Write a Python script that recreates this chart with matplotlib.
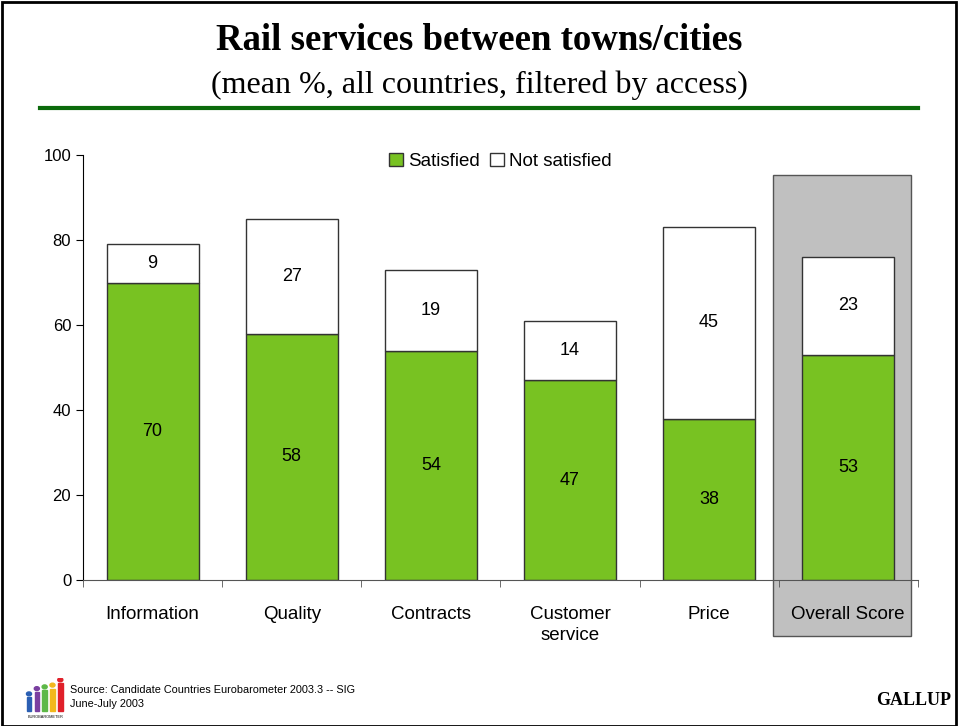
import numpy as np
import matplotlib.pyplot as plt
from matplotlib.patches import Rectangle, Circle

# Categories and values (%)
categories = ['Information', 'Quality', 'Contracts', 'Customer\nservice', 'Price', 'Overall Score']
satisfied = [70, 58, 54, 47, 38, 53]
not_satisfied = [9, 27, 19, 14, 45, 23]

green = '#78C222'
edge = '#333333'

fig = plt.figure(figsize=(9.59, 7.26), dpi=100)
ax = fig.add_axes([0.0866, 0.201, 0.8704, 0.5855])

x = np.arange(len(categories))
width = 0.66

# Grey highlight behind the overall score
ax.add_patch(Rectangle((4.46, -13.2), 0.99, 108.5, facecolor='#C0C0C0',
                       edgecolor='#555555', linewidth=1, clip_on=False, zorder=0))

b1 = ax.bar(x, satisfied, width, color=green, edgecolor=edge, linewidth=1,
            label='Satisfied', zorder=2)
b2 = ax.bar(x, not_satisfied, width, bottom=satisfied, color='white',
            edgecolor=edge, linewidth=1, label='Not satisfied', zorder=2)

for i in range(len(categories)):
    ax.text(x[i], satisfied[i] / 2, str(satisfied[i]), ha='center', va='center',
            fontsize=13, family='Liberation Sans', zorder=3)
    ax.text(x[i], satisfied[i] + not_satisfied[i] / 2, str(not_satisfied[i]),
            ha='center', va='center', fontsize=13, family='Liberation Sans', zorder=3)

ax.set_xlim(-0.5, 5.5)
ax.set_ylim(0, 100)
ax.set_yticks([0, 20, 40, 60, 80, 100])
ax.set_xticks(x)
ax.set_xticklabels(categories, fontsize=13.5, family='Liberation Sans', linespacing=1.35)
ax.set_xticks(np.arange(-0.5, 6, 1), minor=True)
ax.tick_params(axis='x', which='major', length=0, pad=18.5)
ax.tick_params(axis='x', which='minor', length=5, direction='out', color='#555555')
ax.tick_params(axis='y', length=5, labelsize=12)
for lbl in ax.get_yticklabels():
    lbl.set_family('Liberation Sans')
ax.spines['top'].set_visible(False)
ax.spines['right'].set_visible(False)
ax.spines['bottom'].set_color('#555555')
ax.set_facecolor('none')

ax.legend(loc='upper center', bbox_to_anchor=(0.5, 1.045), ncol=2, frameon=False,
          prop={'family': 'Liberation Sans', 'size': 13.5}, handlelength=0.75,
          handleheight=0.75, handletextpad=0.3, columnspacing=0.5)

# Titles and rule
fig.text(0.5, 0.944, 'Rail services between towns/cities', ha='center', va='center',
         fontsize=26.5, fontweight='bold', family='Liberation Serif')
fig.text(0.5, 0.882, '(mean %, all countries, filtered by access)', ha='center',
         va='center', fontsize=23, family='Liberation Serif')
fig.add_artist(plt.Line2D([0.042, 0.957], [0.851, 0.851], color='#0B6A0B', linewidth=3))

# Page frame
fig.add_artist(Rectangle((0.002, 0.0), 0.995, 0.997, fill=False, edgecolor='black',
                         linewidth=2, transform=fig.transFigure))

# Footer
fig.text(0.073, 0.04, 'Source: Candidate Countries Eurobarometer 2003.3 -- SIG\nJune-July 2003',
         ha='left', va='center', fontsize=7.8, family='Liberation Sans', linespacing=1.5)
fig.text(0.992, 0.035, 'GALLUP', ha='right', va='center', fontsize=13,
         fontweight='bold', family='Liberation Serif')

# Eurobarometer logo
logo = fig.add_axes([0.024, 0.008, 0.048, 0.058])
logo.set_xlim(0, 10)
logo.set_ylim(0, 12)
logo.axis('off')
cols = ['#2B5FB3', '#7A3FA0', '#5DB847', '#F2B81C', '#E0202A']
heights = [4, 5.5, 6, 6.5, 8]
for i, (c, h) in enumerate(zip(cols, heights)):
    logo.add_patch(Rectangle((0.8 + i * 1.7, 2.5), 1.0, h, color=c))
    logo.add_patch(Circle((1.3 + i * 1.7, 2.5 + h + 1.0), 0.55, color=c))
logo.text(4.8, 0.8, 'EUROBAROMETER', ha='center', va='center', fontsize=2.8,
          family='Liberation Sans')

fig.savefig('out.png', dpi=100)
